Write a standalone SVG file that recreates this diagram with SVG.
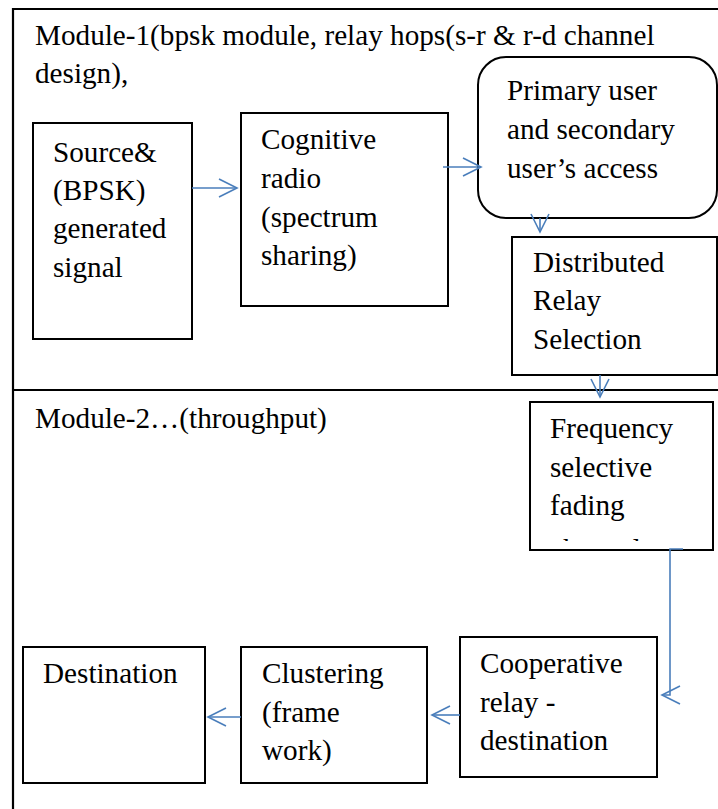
<svg xmlns="http://www.w3.org/2000/svg" width="718" height="809" viewBox="0 0 718 809">
<style>
text{font-family:"Liberation Serif","Times New Roman",serif;font-size:29.2px;fill:#000}
.box{fill:#fff;stroke:#000;stroke-width:2}
.frame{stroke:#000;stroke-width:2.2;fill:none}
.conn{stroke:#4a7ebb;stroke-width:1.6;fill:none}
</style>
<defs>
<marker id="arr" markerUnits="userSpaceOnUse" markerWidth="24" markerHeight="24" viewBox="-20 -12 24 24" refX="0" refY="0" orient="auto">
<path d="M-18,-9 L0,0 L-18,9" fill="none" stroke="#4a7ebb" stroke-width="1.6"/>
</marker>
<clipPath id="clipFreq"><rect x="531" y="403" width="181" height="138"/></clipPath>
</defs>
<g id="frame">
<path class="frame" d="M13,809 V9 H718"/>
<path class="frame" d="M13,390 H718"/>
<text x="35" y="45">Module-1(bpsk module, relay hops(s-r &amp; r-d channel</text>
<text x="35" y="83">design),</text>
<text x="35" y="428">Module-2…(throughput)</text>
</g>
<g id="source">
<rect class="box" x="33" y="123" width="159" height="216"/>
<text x="53" y="162">Source&amp;</text>
<text x="53" y="200">(BPSK)</text>
<text x="53" y="238">generated</text>
<text x="53" y="277">signal</text>
</g>
<g id="cognitive">
<rect class="box" x="241" y="113" width="207" height="193"/>
<text x="261" y="149">Cognitive</text>
<text x="261" y="188">radio</text>
<text x="261" y="227">(spectrum</text>
<text x="261" y="265">sharing)</text>
</g>
<g id="primary">
<rect class="box" x="478" y="57" width="239" height="161" rx="28" ry="28"/>
<text x="507" y="100">Primary user</text>
<text x="507" y="139">and secondary</text>
<text x="507" y="178">user’s access</text>
</g>
<g id="distributed">
<rect class="box" x="512" y="237" width="205" height="138"/>
<text x="533" y="272">Distributed</text>
<text x="533" y="310">Relay</text>
<text x="533" y="349">Selection</text>
</g>
<g id="frequency">
<rect class="box" x="530" y="402" width="183" height="148"/>
<text x="550" y="438">Frequency</text>
<text x="550" y="477">selective</text>
<text x="550" y="515">fading</text>
<text x="550" y="559" clip-path="url(#clipFreq)">channel</text>
</g>
<g id="cooperative">
<rect class="box" x="460" y="637" width="197" height="140"/>
<text x="480" y="673">Cooperative</text>
<text x="480" y="712">relay -</text>
<text x="480" y="750">destination</text>
</g>
<g id="clustering">
<rect class="box" x="241" y="647" width="186" height="136"/>
<text x="262" y="683">Clustering</text>
<text x="262" y="722">(frame</text>
<text x="262" y="760">work)</text>
</g>
<g id="destination">
<rect class="box" x="23" y="647" width="182" height="136"/>
<text x="43" y="683">Destination</text>
</g>
<g id="connectors">
<path class="conn" d="M192,188 H237" marker-end="url(#arr)"/>
<path class="conn" d="M443,167 H481" marker-end="url(#arr)"/>
<path class="conn" d="M540,218 V232" marker-end="url(#arr)"/>
<path class="conn" d="M600,375 V397" marker-end="url(#arr)"/>
<path class="conn" d="M683,549 H670 V695 H662" marker-end="url(#arr)"/>
<path class="conn" d="M460,715 H432" marker-end="url(#arr)"/>
<path class="conn" d="M241,717 H208" marker-end="url(#arr)"/>
</g>
</svg>
